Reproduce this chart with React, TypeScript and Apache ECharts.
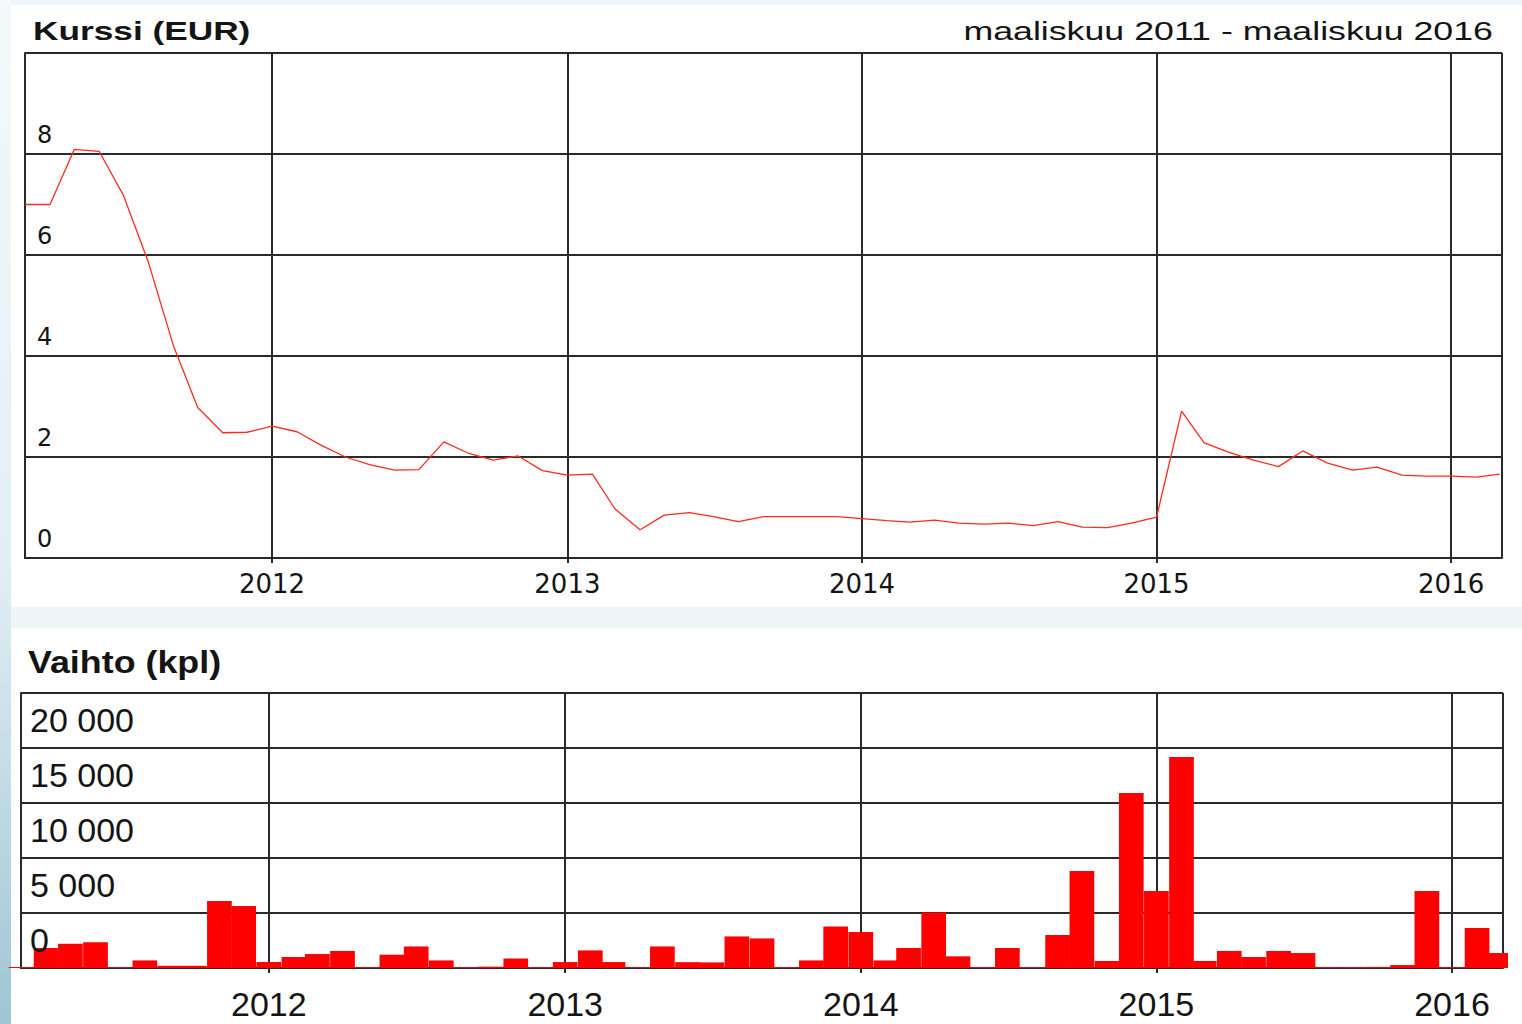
import React, { useEffect, useRef } from 'react';
import * as echarts from 'echarts';

// ---------- data ----------
const FIRST_YEAR = 2011;
const FIRST_MONTH = 3; // March 2011
const MONTH_COUNT = 61; // March 2011 .. March 2016
const months: string[] = Array.from({ length: MONTH_COUNT }, (_, i) => {
  const t = FIRST_MONTH - 1 + i;
  const y = FIRST_YEAR + Math.floor(t / 12);
  const m = (t % 12) + 1;
  return `${y}-${String(m).padStart(2, '0')}-01`;
});

const axisStart = '2011-03-01';
const axisEnd = '2016-03-04';

// Kurssi (EUR), monthly
const price: number[] = [
  7.0, 7.0, 8.09, 8.05, 7.18, 5.85, 4.2, 2.98, 2.48, 2.49, // 2011 Mar-Dec
  2.61, 2.5, 2.24, 2.0, 1.85, 1.74, 1.75, 2.3, 2.07, 1.94, 2.02, 1.73, // 2012
  1.64, 1.66, 0.97, 0.56, 0.85, 0.9, 0.82, 0.72, 0.82, 0.82, 0.82, 0.82, // 2013
  0.78, 0.74, 0.71, 0.75, 0.69, 0.67, 0.69, 0.64, 0.72, 0.61, 0.6, 0.69, // 2014
  0.81, 2.91, 2.28, 2.09, 1.94, 1.81, 2.12, 1.88, 1.74, 1.8, 1.64, 1.62, // 2015
  1.62, 1.6, 1.66, // 2016 Jan-Mar
];

// Vaihto (kpl), monthly
const volume: number[] = [
  80, 1820, 2200, 2330, 80, 690, 200, 200, 6090, 5640, // 2011 Mar-Dec
  550, 1000, 1270, 1550, 80, 1210, 1960, 690, 80, 120, 870, 80, // 2012
  540, 1600, 540, 80, 1960, 530, 510, 2870, 2690, 80, 690, 3780, // 2013
  3270, 690, 1820, 5050, 1060, 80, 1820, 80, 3000, 8820, 640, 15900, // 2014
  7000, 19180, 640, 1550, 1000, 1550, 1360, 80, 80, 100, 270, 7000, // 2015
  80, 3640, 1360, // 2016 Jan-Mar
];

const priceAxis = { min: 0, max: 10, interval: 2 };
const volumeAxis = { min: 0, max: 25000, interval: 5000 };

const priceTitle = 'Kurssi (EUR)';
const periodText = 'maaliskuu 2011 - maaliskuu 2016';
const volumeTitle = 'Vaihto (kpl)';

const fmtThousands = (v: number) =>
  String(v).replace(/\B(?=(\d{3})+(?!\d))/g, ' ');

// local-time timestamp, same as ECharts' own parsing of 'YYYY-MM-DD'
const ts = (s: string) => {
  const [y, m, d] = s.split('-').map(Number);
  return new Date(y, m - 1, d).getTime();
};

const DAY = 24 * 3600 * 1000;
const YEAR = 365 * DAY;

export default function App() {
  const ref = useRef<HTMLDivElement>(null);

  useEffect(() => {
    if (!ref.current) return;
    const chart = echarts.init(ref.current, undefined, { renderer: 'svg' });

    const lineDark = '#2a2a2a';
    const textDark = '#141414';
    const tMin = ts(axisStart);
    const tMax = ts(axisEnd);

    const option: any = {
      animation: false,
      backgroundColor: 'transparent',
      graphic: [
        { type: 'rect', z: -20, shape: { x: 0, y: 0, width: 1522, height: 1024 }, style: { fill: '#eef6f9' } },
        {
          type: 'rect', z: -19, shape: { x: 0, y: 0, width: 11, height: 1024 },
          style: {
            fill: new echarts.graphic.LinearGradient(0, 0, 0, 1, [
              { offset: 0, color: '#f4f9fb' },
              { offset: 0.55, color: '#e3eff4' },
              { offset: 1, color: '#9fc5d5' },
            ]),
          },
        },
        { type: 'rect', z: -18, shape: { x: 11, y: 5, width: 1511, height: 602 }, style: { fill: '#ffffff' } },
        { type: 'rect', z: -18, shape: { x: 11, y: 628, width: 1511, height: 396 }, style: { fill: '#ffffff' } },
        // white margin to the right of the volume plot (trims the edge bar like the original)
        { type: 'rect', z: 40, shape: { x: 1508, y: 900, width: 14, height: 70 }, style: { fill: '#ffffff' } },
        {
          type: 'text', z: 50, x: 33, y: 31, scaleX: 1.41,
          style: { text: priceTitle, fontFamily: 'Liberation Sans', fontWeight: 'bold', fontSize: 25, fill: textDark, verticalAlign: 'middle', align: 'left' },
        },
        {
          type: 'text', z: 50, x: 1493, y: 31, scaleX: 1.43,
          style: { text: periodText, fontFamily: 'Liberation Sans', fontSize: 25, fill: textDark, verticalAlign: 'middle', align: 'right' },
        },
        {
          type: 'text', z: 50, x: 28, y: 662, scaleX: 1.12,
          style: { text: volumeTitle, fontFamily: 'Liberation Sans', fontWeight: 'bold', fontSize: 32, fill: textDark, verticalAlign: 'middle', align: 'left' },
        },
      ],
      grid: [
        { left: 25, top: 53, width: 1477, height: 505, show: true, borderColor: '#cfcfcf', borderWidth: 1, backgroundColor: 'transparent' },
        { left: 21, top: 693, width: 1482, height: 275, show: true, borderColor: '#cfcfcf', borderWidth: 1, backgroundColor: 'transparent' },
      ],
      xAxis: [
        {
          type: 'time', gridIndex: 0, min: tMin, max: tMax,
          minInterval: YEAR, maxInterval: YEAR + 2 * DAY,
          axisLine: { show: true, lineStyle: { color: lineDark, width: 2 } },
          axisTick: { show: true, length: 5, lineStyle: { color: lineDark, width: 2 } },
          splitLine: { show: true, lineStyle: { color: lineDark, width: 2 } },
          axisLabel: { formatter: '{yyyy}', fontFamily: 'DejaVu Sans', fontSize: 26, color: textDark, margin: 13 },
        },
        {
          type: 'time', gridIndex: 1, min: tMin, max: tMax,
          minInterval: YEAR, maxInterval: YEAR + 2 * DAY,
          axisLine: { show: true, lineStyle: { color: lineDark, width: 2 } },
          axisTick: { show: true, length: 5, lineStyle: { color: lineDark, width: 2 } },
          splitLine: { show: true, lineStyle: { color: lineDark, width: 2 } },
          axisLabel: { formatter: '{yyyy}', fontFamily: 'Liberation Sans', fontSize: 34, color: textDark, margin: 19 },
        },
        {
          // hidden numeric time axis carrying the monthly bars
          type: 'value', gridIndex: 1, min: tMin, max: tMax, show: false,
          splitLine: { show: false },
        },
      ],
      yAxis: [
        {
          type: 'value', gridIndex: 0, ...priceAxis,
          axisLine: { show: true, lineStyle: { color: lineDark, width: 2 } },
          axisTick: { show: false },
          splitLine: { show: true, lineStyle: { color: lineDark, width: 2 } },
          axisLabel: {
            inside: true, margin: 12, verticalAlign: 'bottom', padding: [0, 0, 7, 0],
            fontFamily: 'DejaVu Sans', fontSize: 24, color: textDark,
            formatter: (v: number) => (v >= priceAxis.max ? '' : String(v)),
          },
        },
        {
          type: 'value', gridIndex: 1, ...volumeAxis,
          axisLine: { show: true, lineStyle: { color: lineDark, width: 2 } },
          axisTick: { show: false },
          splitLine: { show: true, lineStyle: { color: lineDark, width: 2 } },
          axisLabel: { show: false },
        },
        {
          type: 'value', gridIndex: 1, position: 'left', z: 20, ...volumeAxis,
          axisLine: { show: false },
          axisTick: { show: false },
          splitLine: { show: false },
          axisLabel: {
            inside: true, margin: 9, verticalAlign: 'bottom', padding: [0, 0, 11, 0],
            fontFamily: 'Liberation Sans', fontSize: 34, color: textDark,
            formatter: (v: number) => (v >= volumeAxis.max ? '' : fmtThousands(v)),
          },
        },
      ],
      series: [
        {
          type: 'line', xAxisIndex: 0, yAxisIndex: 0,
          data: months.map((m, i) => [m, price[i]]),
          showSymbol: false, symbol: 'none',
          lineStyle: { color: '#ff2b1c', width: 1.3 },
          z: 5,
        },
        {
          type: 'bar', xAxisIndex: 2, yAxisIndex: 1,
          data: months.map((m, i) => [ts(m), volume[i]]),
          barWidth: 24.7,
          itemStyle: { color: '#ff0000' },
          clip: true,
          z: 5,
        },
      ],
    };

    chart.setOption(option);
    return () => chart.dispose();
  }, []);

  return (
    <div
      ref={ref}
      style={{ position: 'absolute', left: 0, top: 0, width: 1522, height: 1024, background: '#eef6f9' }}
    />
  );
}
